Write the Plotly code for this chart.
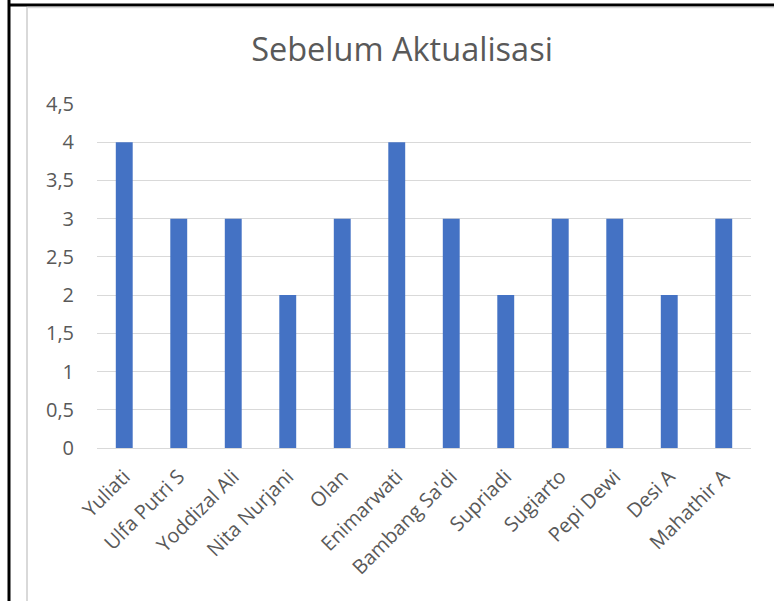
import plotly.graph_objects as go

names = ["Yuliati", "Ulfa Putri S", "Yoddizal Ali", "Nita Nurjani", "Olan", "Enimarwati",
         "Bambang Sa'di", "Supriadi", "Sugiarto", "Pepi Dewi", "Desi A", "Mahathir A"]
values = [4, 3, 3, 2, 3, 4, 3, 2, 3, 3, 2, 3]
y_ticks = [0, 0.5, 1, 1.5, 2, 2.5, 3, 3.5, 4, 4.5]
y_tick_labels = ["0", "0,5", "1", "1,5", "2", "2,5", "3", "3,5", "4", "4,5"]

W, H = 774, 601
L, R, T, B = 97, 751, 104, 448

def px(x):
    return (x - L) / (R - L)

def py(y):
    return (B - y) / (B - T)

fig = go.Figure(go.Bar(x=names, y=values, marker_color="#4472c4",
                       marker_line_width=0))

font = "'Open Sans', 'Noto Sans', sans-serif"
fig.update_layout(
    width=W, height=H,
    margin=dict(l=L, r=W - R, t=T, b=H - B, pad=0),
    paper_bgcolor="white", plot_bgcolor="white",
    bargap=0.69,
    showlegend=False,
    font=dict(family=font, color="#595959", size=20),
    title=dict(text="Sebelum Aktualisasi", font=dict(size=32.5, color="#595959", family=font),
               x=px(402), xref="paper", xanchor="center",
               y=1 - 50 / H, yref="container", yanchor="middle"),
    xaxis=dict(tickangle=-45, showgrid=False, showline=True, linecolor="#d9d9d9",
               linewidth=1, ticks="", ticklabelstandoff=8,
               tickfont=dict(size=20, color="#595959")),
    yaxis=dict(range=[0, 4.5], tickvals=y_ticks, ticktext=y_tick_labels,
               showgrid=True, gridcolor="#d9d9d9", gridwidth=1, zeroline=False,
               showline=False, ticks="", ticklabelstandoff=22,
               tickfont=dict(size=20, color="#595959")),
    shapes=[
        dict(type="line", xref="paper", yref="paper", x0=px(9), x1=px(9), y0=py(0), y1=py(601),
             line=dict(color="black", width=3)),
        dict(type="line", xref="paper", yref="paper", x0=px(8), x1=px(774), y0=py(5), y1=py(5),
             line=dict(color="black", width=3)),
        dict(type="line", xref="paper", yref="paper", x0=px(27), x1=px(27), y0=py(7), y1=py(601),
             line=dict(color="#d9d9d9", width=2)),
        dict(type="line", xref="paper", yref="paper", x0=px(27), x1=px(774), y0=py(7.5), y1=py(7.5),
             line=dict(color="#d9d9d9", width=1.5)),
    ],
)

fig.write_html("out.html", config={"displayModeBar": False},
               post_script="document.body.style.margin='0';document.body.style.overflow='hidden';")
